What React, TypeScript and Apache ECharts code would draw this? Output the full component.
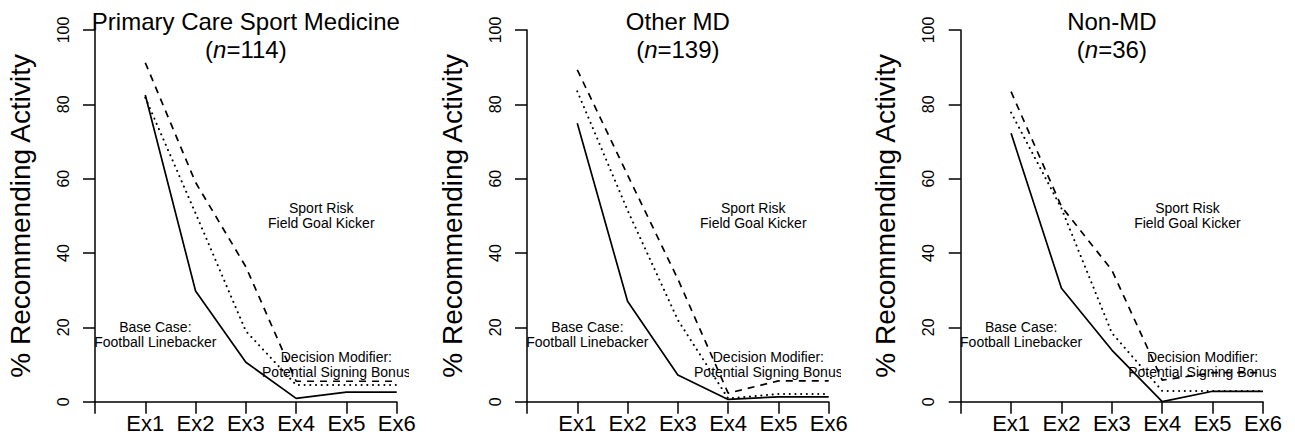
import React, { useEffect, useRef } from "react";
import * as echarts from "echarts";

const categories = ["Ex1", "Ex2", "Ex3", "Ex4", "Ex5", "Ex6"];

const panelTitles = ["Primary Care Sport Medicine", "Other MD", "Non-MD"];
const panelN = [114, 139, 36];

// solid line: Base Case (Football Linebacker)
const baseCase1 = [82.5, 29.8, 10.6, 0.9, 2.6, 2.6];
const baseCase2 = [74.9, 27.0, 7.2, 0.6, 1.3, 1.3];
const baseCase3 = [72.2, 30.5, 13.9, 0.0, 2.8, 2.8];

// dashed line: Sport Risk (Field Goal Kicker)
const sportRisk1 = [91.2, 59.0, 36.3, 5.5, 5.5, 5.5];
const sportRisk2 = [89.3, 61.0, 33.0, 2.3, 5.6, 5.6];
const sportRisk3 = [83.4, 52.5, 35.4, 5.8, 7.8, 7.8];

// dotted line: Decision Modifier (Potential Signing Bonus)
const modifier1 = [81.8, 50.7, 19.0, 4.5, 4.5, 4.5];
const modifier2 = [83.5, 51.5, 22.0, 0.9, 2.1, 2.1];
const modifier3 = [77.8, 52.0, 18.5, 2.9, 2.9, 2.9];

const yTicks = [0, 20, 40, 60, 80, 100];

const annotationTexts = [
  "Base Case:\nFootball Linebacker",
  "Sport Risk\nField Goal Kicker",
  "Decision Modifier:\nPotential Signing Bonus",
];
const annotationX = [1.2, 4.5, 4.8];
const annotationY = [18, 50, 10];

const FONT = '"Liberation Sans", Arial, Helvetica, sans-serif';

export default function App() {
  const ref = useRef<HTMLDivElement>(null);

  useEffect(() => {
    if (!ref.current) return;
    const chart = echarts.init(ref.current, undefined, { renderer: "svg" });

    const panelLeft = [95, 527, 960.7];
    const panelWidth = [301.7, 301.7, 302.3];
    const top = 30;
    const height = 371.7;

    const baseSets = [baseCase1, baseCase2, baseCase3];
    const riskSets = [sportRisk1, sportRisk2, sportRisk3];
    const modSets = [modifier1, modifier2, modifier3];

    const grids: any[] = [];
    const xAxes: any[] = [];
    const yAxes: any[] = [];
    const series: any[] = [];
    const titles: any[] = [];

    for (let i = 0; i < 3; i++) {
      grids.push({
        left: panelLeft[i],
        top,
        width: panelWidth[i],
        height,
        containLabel: false,
      });
      xAxes.push({
        gridIndex: i,
        type: "value",
        min: 0,
        max: categories.length,
        interval: 1,
        axisLine: { show: true, onZero: false, lineStyle: { color: "#000", width: 1.5 } },
        axisTick: { show: true, length: 12, lineStyle: { color: "#000", width: 1.5 } },
        axisLabel: {
          show: true,
          formatter: (v: number) => (v >= 1 ? categories[Math.round(v) - 1] : ""),
          fontSize: 22,
          color: "#000",
          fontFamily: FONT,
          margin: 11,
          showMinLabel: true,
          showMaxLabel: true,
        },
        splitLine: { show: false },
      });
      yAxes.push({
        gridIndex: i,
        type: "value",
        min: yTicks[0],
        max: yTicks[yTicks.length - 1],
        interval: yTicks[1] - yTicks[0],
        name: "% Recommending Activity",
        nameLocation: "middle",
        nameGap: 61,
        nameTextStyle: { fontSize: 28, color: "#000", fontFamily: FONT },
        axisLine: { show: true, onZero: false, lineStyle: { color: "#000", width: 1.5 } },
        axisTick: { show: true, length: 12, lineStyle: { color: "#000", width: 1.5 } },
        axisLabel: {
          show: true,
          rotate: 90,
          fontSize: 16,
          color: "#000",
          fontFamily: FONT,
          margin: 24,
        },
        splitLine: { show: false },
      });

      const mk = (vals: number[]) => vals.map((v, k) => [k + 1, v]);
      series.push({
        type: "line",
        xAxisIndex: i,
        yAxisIndex: i,
        data: mk(baseSets[i]),
        symbol: "none",
        silent: true,
        lineStyle: { color: "#000", width: 1.7, type: "solid", join: "round" },
      });
      series.push({
        type: "line",
        xAxisIndex: i,
        yAxisIndex: i,
        data: mk(riskSets[i]),
        symbol: "none",
        silent: true,
        lineStyle: { color: "#000", width: 1.7, type: [7, 6], cap: "butt" },
      });
      series.push({
        type: "line",
        xAxisIndex: i,
        yAxisIndex: i,
        data: mk(modSets[i]),
        symbol: "none",
        silent: true,
        lineStyle: { color: "#000", width: 2, type: [0.1, 5.6], cap: "round" },
      });

      titles.push({
        text: `${panelTitles[i]}\n({i|n}=${panelN[i]})`,
        left: panelLeft[i] + panelWidth[i] / 2,
        top: 7,
        padding: 0,
        textAlign: "center",
        textStyle: {
          fontSize: 24,
          fontWeight: "normal",
          color: "#000",
          fontFamily: FONT,
          lineHeight: 28,
          rich: {
            i: {
              fontSize: 24,
              fontStyle: "italic",
              fontWeight: "normal",
              color: "#000",
              fontFamily: FONT,
              lineHeight: 28,
            },
          },
        },
      });
    }

    // hidden clip grids (plot region extended by 4% like R's usr)
    for (let i = 0; i < 3; i++) {
      const w = panelWidth[i];
      grids.push({
        left: panelLeft[i] - 0.04 * w,
        top: top - 0.04 * height,
        width: w * 1.08,
        height: height * 1.08,
      });
      xAxes.push({
        gridIndex: 3 + i,
        type: "value",
        min: -0.24,
        max: categories.length + 0.24,
        show: false,
      });
      yAxes.push({
        gridIndex: 3 + i,
        type: "value",
        min: -4,
        max: 104,
        show: false,
      });
      series.push({
        type: "custom",
        xAxisIndex: 3 + i,
        yAxisIndex: 3 + i,
        clip: true,
        silent: true,
        data: annotationX.map((x, k) => [x, annotationY[k]]),
        renderItem: (params: any, api: any) => {
          const pt = api.coord([api.value(0), api.value(1)]);
          return {
            type: "text",
            x: pt[0],
            y: pt[1],
            style: {
              text: annotationTexts[params.dataIndex],
              fill: "#000",
              fontSize: 14,
              fontFamily: FONT,
              lineHeight: 15,
              align: "center",
              verticalAlign: "middle",
              textAlign: "center",
              textVerticalAlign: "middle",
            },
          };
        },
      });
    }

    chart.setOption({
      animation: false,
      backgroundColor: "#fff",
      textStyle: { fontFamily: FONT },
      title: titles,
      grid: grids,
      xAxis: xAxes,
      yAxis: yAxes,
      series,
    });

    return () => chart.dispose();
  }, []);

  return (
    <div
      ref={ref}
      style={{ position: "absolute", left: 0, top: 0, width: 1295, height: 441 }}
    />
  );
}
